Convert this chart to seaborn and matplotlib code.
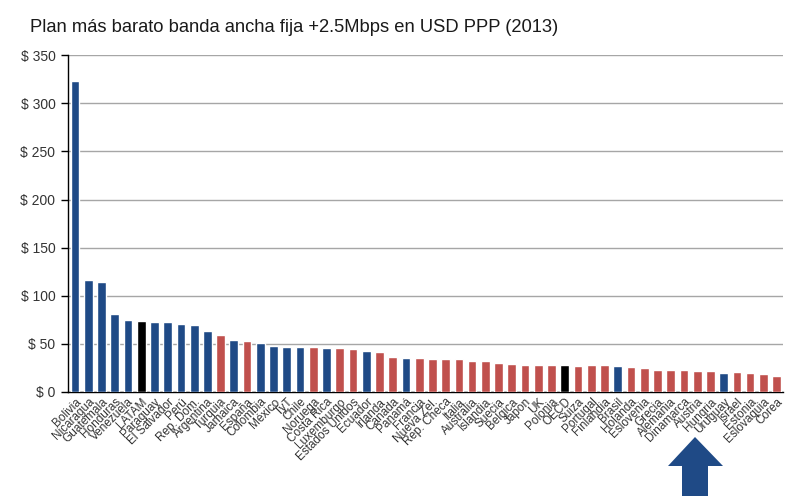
import matplotlib
matplotlib.use("Agg")
import matplotlib.pyplot as plt
from matplotlib.patches import Polygon
import seaborn as sns
import pandas as pd
import numpy as np

countries = ["Bolivia", "Nicaragua", "Guatemala", "Honduras", "Venezuela", "LATAM",
             "Paraguay", "El Salvador", "Perú", "Rep. Dom.", "Argentina", "Turquia",
             "Jamaica", "España", "Colombia", "México", "TyT", "Chile", "Noruega",
             "Costa Rica", "Luxemburgo", "Estados Unidos", "Ecuador", "Irlanda", "Canada",
             "Panamá", "Francia", "Nueva Zel.", "Rep. Checa", "Italia", "Australia",
             "Islandia", "Suecia", "Belgica", "Japon", "UK", "Polonia", "OECD", "Suiza",
             "Portugal", "Finlandia", "Brasil", "Holanda", "Eslovenia", "Grecia",
             "Alemania", "Dinamarca", "Austria", "Hungria", "Uruguay", "Israel",
             "Estonia", "Eslovaquia", "Corea"]

prices = [323, 116, 114, 81, 74.5, 73.5, 73, 72.7, 70.5, 69.5, 63, 58.7,
          54.2, 52.5, 51, 47.9, 46.9, 46.6, 46.6, 45.8, 45.5, 44.8, 42.7, 41.7, 36.5,
          34.7, 35.4, 34.4, 33.7, 33.7, 31.6, 31.6, 29.9, 28.8, 28.1, 28.1, 28.1, 28.1,
          27.2, 27.5, 27.5, 26.4, 26, 25, 22.6, 22.6, 22.6, 21.6, 21.6, 19.8, 20.5,
          19.5, 18, 16.7]

# L = Latin America, O = OECD member, A = aggregate
groups = ["L", "L", "L", "L", "L", "A", "L", "L", "L", "L", "L", "O",
          "L", "O", "L", "L", "L", "L", "O", "L", "O", "O", "L", "O", "O",
          "L", "O", "O", "O", "O", "O", "O", "O", "O", "O", "O", "O", "A", "O",
          "O", "O", "L", "O", "O", "O", "O", "O", "O", "O", "L", "O",
          "O", "O", "O"]

yticks = [0, 50, 100, 150, 200, 250, 300, 350]
ytick_labels = ["$ 0", "$ 50", "$ 100", "$ 150", "$ 200", "$ 250", "$ 300", "$ 350"]
title = "Plan más barato banda ancha fija +2.5Mbps en USD PPP (2013)"

group_colors = {"L": "#1F4A86", "O": "#C0504D", "A": "#000000"}

df = pd.DataFrame({"country": countries, "price": prices, "group": groups})

sns.set_theme(style="white")
plt.rcParams["font.family"] = ["Liberation Sans", "DejaVu Sans"]

fig = plt.figure(figsize=(8, 4.96), dpi=100)
ax = fig.add_axes([0.085, 0.2103, 0.894, 0.678])

palette = [group_colors[g] for g in groups]
sns.barplot(data=df, x="country", y="price", hue="country", palette=palette,
            legend=False, width=0.66, saturation=1, ax=ax, zorder=3)

ax.set_ylim(0, 350)
ax.set_xlim(-0.53, len(countries) - 0.5)
ax.set_yticks(yticks)
ax.set_yticklabels(ytick_labels, fontsize=10, color="#333333")
ax.yaxis.grid(True, color="#A6A6A6", linewidth=1.0, zorder=0)
ax.set_axisbelow(True)

ax.set_xticks(range(len(countries)))
ax.set_xticklabels(countries, rotation=45, ha="right", rotation_mode="anchor",
                   fontsize=8.5, color="#333333")
ax.tick_params(axis="x", which="major", length=0, pad=3)
ax.set_xticks(np.arange(len(countries) + 1) - 0.5, minor=True)
ax.tick_params(axis="x", which="minor", length=4, width=1, color="black", direction="out")
ax.tick_params(axis="y", which="major", length=5, width=1, color="black", direction="out",
               pad=4, left=True)

for side in ["top", "right"]:
    ax.spines[side].set_visible(False)
ax.spines["left"].set_color("black")
ax.spines["bottom"].set_color("black")
ax.spines["left"].set_linewidth(1)
ax.spines["bottom"].set_linewidth(1)
ax.set_xlabel("")
ax.set_ylabel("")

fig.text(30 / 800, 1 - 27 / 496, title, fontsize=13.2, color="#1A1A1A",
         ha="left", va="center")

# decorative arrow pointing at Uruguay
W, H = 800, 496
pts = [(695, 437), (723, 466), (708, 466), (708, 500), (682, 500), (682, 466), (668, 466)]
arrow = Polygon([(x / W, 1 - y / H) for x, y in pts], closed=True,
                transform=fig.transFigure, facecolor="#1F4A86", edgecolor="none")
fig.patches.append(arrow)

fig.savefig("out.png", dpi=100)
